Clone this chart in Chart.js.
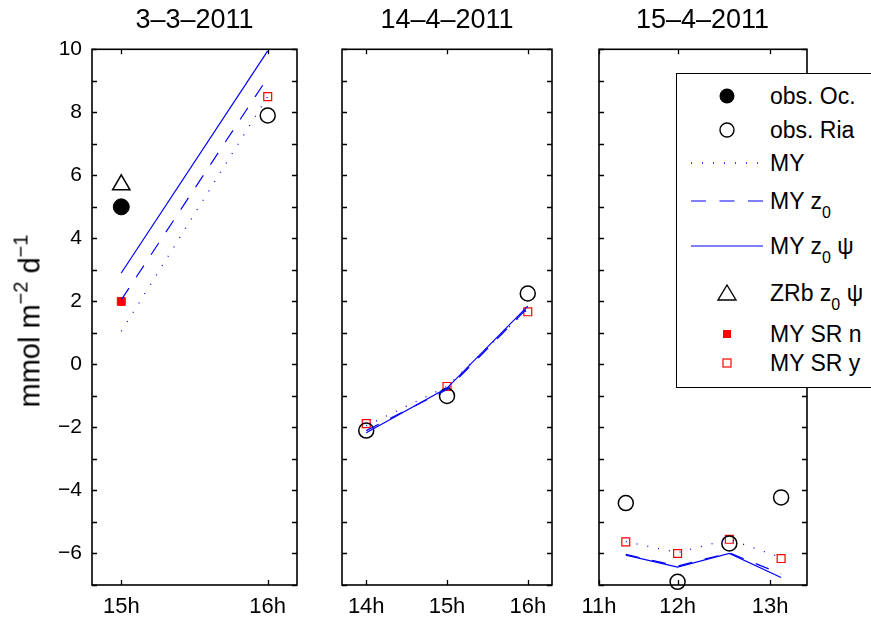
<!DOCTYPE html>
<html><head><meta charset="utf-8">
<script src="https://cdn.jsdelivr.net/npm/chart.js@4.4.1/dist/chart.umd.min.js"></script>
<style>
html,body{margin:0;padding:0;background:#fff;width:871px;height:618px;overflow:hidden;position:relative;font-family:"Liberation Sans",Arial,Helvetica,sans-serif;color:#000;}
canvas{position:absolute;top:0;}
.title{position:absolute;top:4px;font-size:27px;text-align:center;width:240px;white-space:nowrap;}
#ylab{position:absolute;left:30px;top:321px;transform:translate(-50%,-50%) rotate(-90deg);white-space:nowrap;font-size:29px;}
#ylab sup{font-size:20px;vertical-align:12px;line-height:0;}
#legend{position:absolute;left:676px;top:73px;width:220px;height:315px;border:1px solid #000;background:#fff;box-sizing:border-box;}
#legend svg{position:absolute;left:0;top:0;}
.lt{position:absolute;left:93px;font-size:23px;white-space:nowrap;transform:translateY(-50%);line-height:1;}
.lt sub{font-size:16px;vertical-align:-9px;line-height:0;}
</style>
</head><body>
<canvas id="c1"></canvas><canvas id="c2"></canvas><canvas id="c3"></canvas>
<div class="title" id="t1"></div><div class="title" id="t2"></div><div class="title" id="t3"></div>
<div id="ylab">mmol m<sup>−2</sup> d<sup>−1</sup></div>
<div id="legend"></div>
<script>
// ---------------- data ----------------
const panelTitles = ["3–3–2011", "14–4–2011", "15–4–2011"];
const yTicks = [-7,-6,-5,-4,-3,-2,-1,0,1,2,3,4,5,6,7,8,9,10];
const yLabelled = [-6,-4,-2,0,2,4,6,8,10];

// panel 1 : 3-3-2011
const p1Times = [15, 16];
const p1XTicks = [15, 16];
const p1XLabels = ["15h", "16h"];
const p1ObsOc = [5.0, null];
const p1ObsRia = [null, 7.9];
const p1MY = [1.05, 8.5];
const p1MYz0 = [2.05, 9.1];
const p1MYz0psi = [2.9, 9.95];
const p1ZRb = [5.7, null];
const p1SRn = [2.0, null];
const p1SRy = [null, 8.5];

// panel 2 : 14-4-2011
const p2Times = [14, 15, 16];
const p2XTicks = [14, 15, 16];
const p2XLabels = ["14h", "15h", "16h"];
const p2ObsOc = [null, null, null];
const p2ObsRia = [-2.1, -1.0, 2.25];
const p2MY = [-1.95, -0.7, 1.75];
const p2MYz0 = [-2.1, -0.8, 1.8];
const p2MYz0psi = [-2.17, -0.75, 1.85];
const p2ZRb = [null, null, null];
const p2SRn = [null, null, null];
const p2SRy = [-1.88, -0.7, 1.67];

// panel 3 : 15-4-2011
const p3Times = [11.44, 12.0, 12.56, 13.12];
const p3XTicks = [11.15, 12, 13];
const p3XLabels = ["11h", "12h", "13h"];
const p3ObsOc = [null, null, null, null];
const p3ObsRia = [-4.4, -6.9, -5.68, -4.22];
const p3MY = [-5.62, -5.97, -5.55, -6.13];
const p3MYz0 = [-6.03, -6.4, -5.98, -6.65];
const p3MYz0psi = [-6.05, -6.43, -6.0, -6.76];
const p3ZRb = [null, null, null, null];
const p3SRn = [null, null, null, null];
const p3SRy = [-5.63, -6.0, -5.55, -6.16];

// ---------------- layout ----------------
const panels = [
  {id:'c1', tid:'t1', title:panelTitles[0], l:92, r:297, xmin:14.8, xmax:16.2, padL:92, yLabels:true,
   times:p1Times, xt:p1XTicks, xl:p1XLabels, oc:p1ObsOc, ria:p1ObsRia, my:p1MY, myz:p1MYz0, myzp:p1MYz0psi, zrb:p1ZRb, srn:p1SRn, sry:p1SRy},
  {id:'c2', tid:'t2', title:panelTitles[1], l:342, r:552, xmin:13.7, xmax:16.3, padL:40, yLabels:false,
   times:p2Times, xt:p2XTicks, xl:p2XLabels, oc:p2ObsOc, ria:p2ObsRia, my:p2MY, myz:p2MYz0, myzp:p2MYz0psi, zrb:p2ZRb, srn:p2SRn, sry:p2SRy},
  {id:'c3', tid:'t3', title:panelTitles[2], l:598.5, r:806.5, xmin:11.15, xmax:13.4, padL:40, yLabels:false,
   times:p3Times, xt:p3XTicks, xl:p3XLabels, oc:p3ObsOc, ria:p3ObsRia, my:p3MY, myz:p3MYz0, myzp:p3MYz0psi, zrb:p3ZRb, srn:p3SRn, sry:p3SRy}
];
const TOP = 49.3, BOTTOM = 585, PADR = 30, H = 618;
const BLUE = '#0000ff', RED = '#ff0000';
const FONT = "'Liberation Sans', Arial, Helvetica, sans-serif";

function pts(xs, ys){ const o=[]; xs.forEach((x,i)=>{ if(ys[i]!==null && ys[i]!==undefined) o.push({x:x,y:ys[i]}); }); return o; }
function lineDS(label, xs, ys, dash, w){
  return {type:'line', label, data:pts(xs,ys), borderColor:BLUE, backgroundColor:BLUE, borderWidth:w||1.2,
    borderDash:dash, pointRadius:0, fill:false, tension:0, clip:false, showLine:true};
}
function markDS(label, xs, ys, style, r, fillc, strokec, bw){
  return {type:'scatter', label, data:pts(xs,ys), pointStyle:style, pointRadius:r, pointHoverRadius:r,
    backgroundColor:fillc, borderColor:strokec, pointBorderWidth:bw, borderWidth:bw, showLine:false, clip:false};
}

const boxPlugin = {
  id:'boxTicks',
  beforeDatasetsDraw(chart){
    const ctx = chart.ctx, a = chart.chartArea, xs = chart.scales.x, ys = chart.scales.y;
    ctx.save();
    ctx.strokeStyle = '#000'; ctx.lineWidth = 1.3;
    ctx.beginPath();
    ys.ticks.forEach(t=>{ const p = Math.round(ys.getPixelForValue(t.value))+0.5;
      ctx.moveTo(a.left, p); ctx.lineTo(a.left+5, p); ctx.moveTo(a.right, p); ctx.lineTo(a.right-5, p); });
    xs.ticks.forEach(t=>{ const p = Math.round(xs.getPixelForValue(t.value))+0.5;
      ctx.moveTo(p, a.bottom); ctx.lineTo(p, a.bottom-5); ctx.moveTo(p, a.top); ctx.lineTo(p, a.top+5); });
    ctx.stroke();
    ctx.lineWidth = 1.6;
    ctx.strokeRect(a.left, a.top, a.right-a.left, a.bottom-a.top);
    ctx.restore();
  }
};

panels.forEach(P=>{
  const cv = document.getElementById(P.id);
  const W = (P.r - P.l) + P.padL + PADR;
  cv.width = W; cv.height = H;
  cv.style.width = W+'px'; cv.style.height = H+'px';
  cv.style.left = (P.l - P.padL)+'px';
  const t = document.getElementById(P.tid);
  t.textContent = P.title;
  t.style.left = ((P.l+P.r)/2 - 120)+'px';

  const datasets = [
    lineDS('MY', P.times, P.my, [1,10], 1.3),
    lineDS('MY z0', P.times, P.myz, [14,13], 1.2),
    lineDS('MY z0 ψ', P.times, P.myzp, [], 1.2),
    markDS('obs. Oc.', P.times, P.oc, 'circle', 8, '#000', '#000', 1),
    markDS('obs. Ria', P.times, P.ria, 'circle', 7.5, 'rgba(0,0,0,0)', '#000', 1.5),
    markDS('ZRb z0 ψ', P.times, P.zrb, 'triangle', 10, 'rgba(0,0,0,0)', '#000', 1.5),
    markDS('MY SR n', P.times, P.srn, 'rect', 5.6, RED, RED, 1),
    markDS('MY SR y', P.times, P.sry, 'rect', 5.6, 'rgba(0,0,0,0)', RED, 1.2)
  ];
  new Chart(cv, {
    type:'scatter',
    data:{datasets},
    options:{
      responsive:false, animation:false, devicePixelRatio:1,
      layout:{padding:{top:TOP, right:PADR, left:0, bottom:0}},
      plugins:{legend:{display:false}, tooltip:{enabled:false}, title:{display:false}},
      scales:{
        x:{type:'linear', min:P.xmin, max:P.xmax, position:'bottom',
           grid:{display:false, drawTicks:false}, border:{display:false},
           afterBuildTicks:(s)=>{ s.ticks = P.xt.map(v=>({value:v})); },
           afterFit:(s)=>{ s.height = H - BOTTOM; },
           ticks:{autoSkip:false, maxRotation:0, padding:9, color:'#000', font:{family:FONT, size:22},
             callback:(v,i)=>P.xl[i]}},
        y:{type:'linear', min:-7, max:10, position:'left',
           grid:{display:false, drawTicks:false}, border:{display:false},
           afterBuildTicks:(s)=>{ s.ticks = yTicks.map(v=>({value:v})); },
           afterFit:(s)=>{ s.width = P.padL; },
           ticks:{display:P.yLabels, autoSkip:false, padding:10, color:'#000', font:{family:FONT, size:21},
             callback:(v)=> yLabelled.includes(v) ? (v<0 ? '−'+Math.abs(v) : String(v)) : ''}}
      }
    },
    plugins:[boxPlugin]
  });
});

// ---------------- legend (HTML) ----------------
const legendItems = [
  {html:'obs. Oc.', y:22, kind:'fcircle'},
  {html:'obs. Ria', y:56, kind:'ocircle'},
  {html:'MY', y:89, kind:'dot'},
  {html:'MY z<sub>0</sub>', y:127, kind:'dash'},
  {html:'MY z<sub>0</sub> ψ', y:172, kind:'solid'},
  {html:'ZRb z<sub>0</sub> ψ', y:219, kind:'tri'},
  {html:'MY SR n', y:260, kind:'fsq'},
  {html:'MY SR y', y:289, kind:'osq'}
];
const lg = document.getElementById('legend');
let svg = '<svg width="220" height="315" xmlns="http://www.w3.org/2000/svg">';
const cx = 50;
legendItems.forEach(it=>{
  const y = it.y;
  if(it.kind==='fcircle') svg += `<circle cx="${cx}" cy="${y}" r="7.5" fill="#000"/>`;
  if(it.kind==='ocircle') svg += `<circle cx="${cx}" cy="${y}" r="7" fill="none" stroke="#000" stroke-width="1.4"/>`;
  if(it.kind==='dot') svg += `<line x1="14" y1="${y}" x2="86" y2="${y}" stroke="${BLUE}" stroke-width="1.3" stroke-dasharray="1 10"/>`;
  if(it.kind==='dash') svg += `<line x1="14" y1="${y}" x2="86" y2="${y}" stroke="${BLUE}" stroke-width="1.2" stroke-dasharray="15 13.5"/>`;
  if(it.kind==='solid') svg += `<line x1="14" y1="${y}" x2="86" y2="${y}" stroke="${BLUE}" stroke-width="1.2"/>`;
  if(it.kind==='tri') svg += `<polygon points="${cx},${y-8} ${cx+9},${y+7} ${cx-9},${y+7}" fill="none" stroke="#000" stroke-width="1.4"/>`;
  if(it.kind==='fsq') svg += `<rect x="${cx-4}" y="${y-4}" width="8" height="8" fill="${RED}"/>`;
  if(it.kind==='osq') svg += `<rect x="${cx-4}" y="${y-4}" width="8" height="8" fill="none" stroke="${RED}" stroke-width="1.2"/>`;
});
svg += '</svg>';
let html = svg;
legendItems.forEach(it=>{ html += `<div class="lt" style="top:${it.y}px">${it.html}</div>`; });
lg.innerHTML = html;
</script>
</body></html>
